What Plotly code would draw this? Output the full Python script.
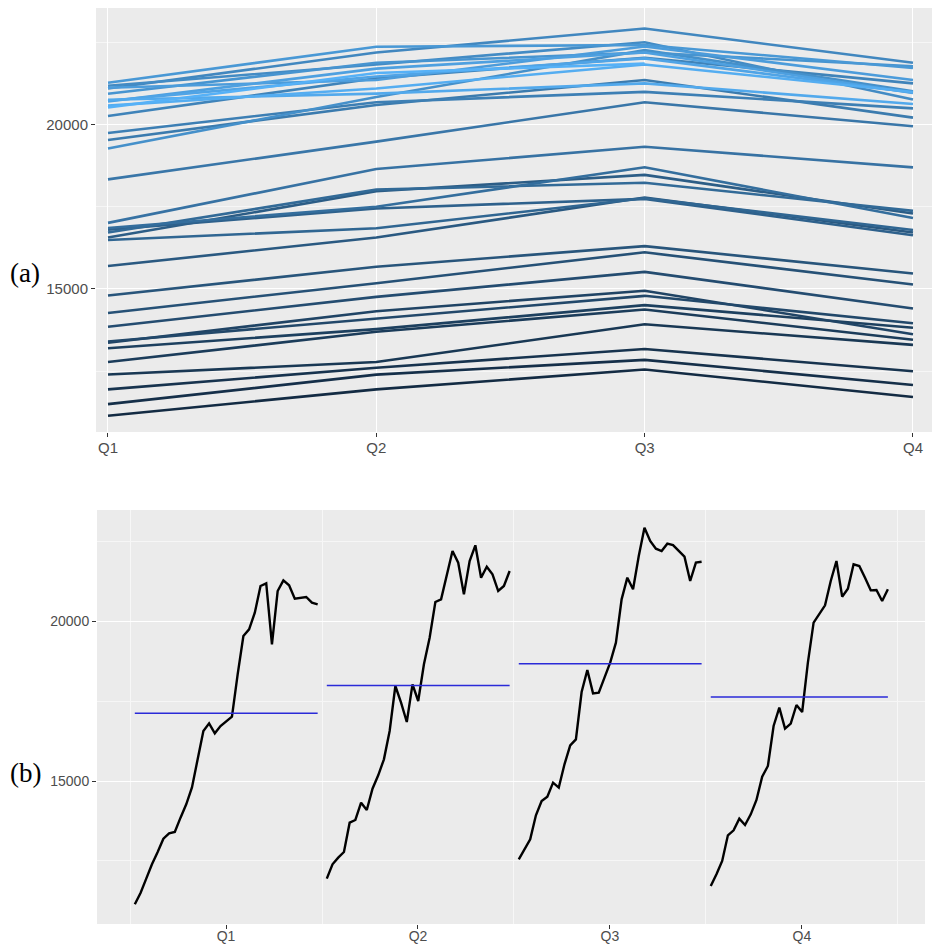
import plotly.graph_objects as go

quarters = ["Q1", "Q2", "Q3", "Q4"]

q1_values = [11147, 11500, 11950, 12400, 12780, 13198, 13365, 13406, 13854, 14271,
             14800, 15700, 16563, 16802, 16490, 16719, 16854, 17010, 18333, 19531,
             19740, 20260, 21094, 21177, 19271, 20937, 21271, 21115, 20698, 20720,
             20750, 20573, 20520]
q2_values = [11948, 12396, 12604, 12781, 13698, 13781, 14323, 14094, 14760, 15177,
             15677, 16563, 17969, 17448, 16844, 18021, 17500, 18646, 19479, 20594,
             20677, 21406, 22187, 21823, 20833, 21875, 22365, 21354, 21698, 21458,
             20937, 21094, 21563]
q3_values = [12552, 12844, 13177, 13927, 14375, 14510, 14948, 14792, 15521, 16115,
             16302, 17781, 18469, 17740, 17760, 18229, 18698, 19323, 20677, 21354,
             20990, 22031, 22917, 22500, 22260, 22187, 22417, 22370, 22187, 22010,
             21250, 21823, 21850]
q4_values = [11719, 12083, 12500, 13302, 13458, 13823, 13625, 13958, 14406, 15135,
             15469, 16719, 17292, 16635, 16792, 17375, 17156, 18698, 19948, 20208,
             20490, 21250, 21875, 20760, 21010, 21771, 21719, 21354, 20958, 20970,
             20625, 20990]

y_ticks = [15000, 20000]
y_minor = [12500, 17500, 22500]

series = [q1_values, q2_values, q3_values, q4_values]
n_years = len(q1_values)

def lerp_color(c1, c2, t):
    a = [int(c1[i:i + 2], 16) for i in (1, 3, 5)]
    b = [int(c2[i:i + 2], 16) for i in (1, 3, 5)]
    return "rgb(%d,%d,%d)" % tuple(round(a[j] + (b[j] - a[j]) * t) for j in range(3))

fig = go.Figure()

# (a) seasonal plot: one line per year
for k in range(n_years):
    xs, ys = [], []
    for qi, vals in enumerate(series):
        if k < len(vals):
            xs.append(qi + 1)
            ys.append(vals[k])
    col = lerp_color("#132B43", "#56B1F7", k / (n_years - 1))
    fig.add_trace(go.Scatter(x=xs, y=ys, mode="lines", line=dict(color=col, width=2.6),
                             xaxis="x", yaxis="y", showlegend=False, hoverinfo="skip"))

# (b) subseries plot
season_width = (n_years - 1) * 1.05
for qi, vals in enumerate(series):
    xs = [qi + 1 + 0.025 + k / season_width for k in range(len(vals))]
    fig.add_trace(go.Scatter(x=xs, y=vals, mode="lines", line=dict(color="black", width=2.4),
                             xaxis="x2", yaxis="y2", showlegend=False, hoverinfo="skip"))
    avg = sum(vals) / len(vals)
    fig.add_trace(go.Scatter(x=[xs[0], xs[-1]], y=[avg, avg], mode="lines",
                             line=dict(color="#2a2ad8", width=1.5),
                             xaxis="x2", yaxis="y2", showlegend=False, hoverinfo="skip"))

# the page body has an 8px margin, so the figure is placed 8px in from the top-left
OFF = 8
W, H = 940 - OFF, 944 - OFF

def px_x(a, b):
    return [(a - OFF) / W, min(1.0, (b - OFF) / W)]

def px_y(top, bottom):
    return [1 - (bottom - OFF) / H, 1 - (top - OFF) / H]

tick_font = dict(family="Liberation Sans, Arial, sans-serif", color="#4D4D4D")

common = dict(zeroline=False, showline=False, automargin=False,
              ticks="outside", ticklen=4, tickcolor="#333333")

fig.update_layout(
    width=W, height=H,
    margin=dict(l=0, r=0, t=0, b=0),
    paper_bgcolor="white",
    plot_bgcolor="#EBEBEB",
    xaxis=dict(domain=px_x(96, 940), range=[0.9553, 4.1007],
               tickvals=[1, 2, 3, 4], ticktext=quarters,
               showgrid=True, gridcolor="white", gridwidth=1.4,
               ticklabelstandoff=-2,
               tickfont=dict(size=15, **tick_font), anchor="y", **common),
    yaxis=dict(domain=px_y(8, 432), range=[10653, 23541],
               tickvals=y_ticks, ticktext=[str(v) for v in y_ticks],
               showgrid=True, gridcolor="white", gridwidth=1.4,
               minor=dict(tickvals=y_minor, showgrid=True, gridcolor="#F6F6F6", gridwidth=0.8, ticklen=0),
               tickfont=dict(size=15, **tick_font), anchor="x", **common),
    xaxis2=dict(domain=px_x(97, 925), range=[0.828, 5.141],
                tickvals=[1.5, 2.5, 3.5, 4.5], ticktext=quarters,
                showgrid=False,
                minor=dict(tickvals=[1, 2, 3, 4, 5], showgrid=True, gridcolor="#F7F7F7", gridwidth=1.0, ticklen=0),
                ticklabelstandoff=-5,
                tickfont=dict(size=14, **tick_font), anchor="y2", **common),
    yaxis2=dict(domain=px_y(510, 924), range=[10531, 23469],
                tickvals=y_ticks, ticktext=[str(v) for v in y_ticks],
                showgrid=True, gridcolor="white", gridwidth=1.4,
                minor=dict(tickvals=y_minor, showgrid=True, gridcolor="#F6F6F6", gridwidth=0.8, ticklen=0),
                tickfont=dict(size=14, **tick_font), anchor="x2", **common),
    annotations=[
        dict(text="(a)", x=0, y=1 - (273 - OFF) / H, xref="paper", yref="paper",
             xanchor="left", yanchor="middle", showarrow=False,
             font=dict(family="Liberation Serif, Times New Roman, serif", size=27, color="black")),
        dict(text="(b)", x=0, y=1 - (773 - OFF) / H, xref="paper", yref="paper",
             xanchor="left", yanchor="middle", showarrow=False,
             font=dict(family="Liberation Serif, Times New Roman, serif", size=27, color="black")),
    ],
)

fig.write_html("out.html")
